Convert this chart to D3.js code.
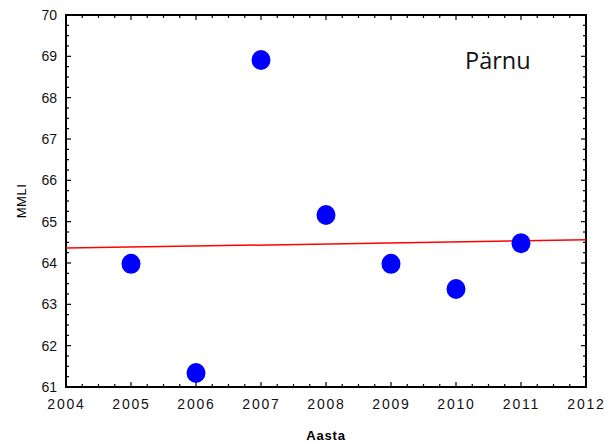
<!DOCTYPE html>
<html>
<head>
<meta charset="utf-8">
<script src="https://cdn.jsdelivr.net/npm/d3@7"></script>
<style>
body { margin: 0; background: #fff; }
text { font-family: "Liberation Sans", Arial, sans-serif; }
</style>
</head>
<body>
<div id="chart"></div>
<script>
const w = 609;
const h = 443;
const margin = {top: 15, right: 23, bottom: 56, left: 66};

// data
const years = [2005, 2006, 2007, 2008, 2009, 2010, 2011];
const mmli = [63.98, 61.34, 68.91, 65.16, 63.98, 63.37, 64.48];
const trendX = [2004, 2012];
const trendY = [64.36, 64.56];
const xTicks = [2004, 2005, 2006, 2007, 2008, 2009, 2010, 2011, 2012];
const yTicks = [61, 62, 63, 64, 65, 66, 67, 68, 69, 70];

let svg = d3.select('#chart')
	.append('svg')
		.attr('width', w)
		.attr('height', h);

let xScale = d3.scaleLinear()
	.domain([2004, 2012])
	.range([margin.left, w - margin.right]);

let yScale = d3.scaleLinear()
	.domain([61, 70])
	.range([h - margin.bottom, margin.top]);

const x0 = xScale.range()[0], x1 = xScale.range()[1];
const y0 = yScale.range()[0], y1 = yScale.range()[1];

// minor ticks every quarter
const xMinor = d3.range(2004, 2012.001, 0.25);
const yMinor = d3.range(61, 70.001, 0.25);

function tickLen(v) { return Math.abs(v - Math.round(v)) < 1e-6 ? 5 : 3; }

let ticks = svg.append('g').attr('stroke', 'black').attr('stroke-width', 1.2);
xMinor.forEach(v => {
	const x = xScale(v), l = tickLen(v);
	ticks.append('line').attr('x1', x).attr('x2', x).attr('y1', y0).attr('y2', y0 - l);
	ticks.append('line').attr('x1', x).attr('x2', x).attr('y1', y1).attr('y2', y1 + l);
});
yMinor.forEach(v => {
	const y = yScale(v), l = tickLen(v);
	ticks.append('line').attr('x1', x0).attr('x2', x0 + l).attr('y1', y).attr('y2', y);
	ticks.append('line').attr('x1', x1).attr('x2', x1 - l).attr('y1', y).attr('y2', y);
});

// frame
svg.append('rect')
	.attr('x', x0).attr('y', y1)
	.attr('width', x1 - x0).attr('height', y0 - y1)
	.attr('fill', 'none').attr('stroke', 'black').attr('stroke-width', 2);

// tick labels via axes
let xAxis = svg.append('g')
	.attr('transform', 'translate(0,' + y0 + ')')
	.call(d3.axisBottom(xScale).tickValues(xTicks).tickFormat(d3.format('d')).tickSize(0).tickPadding(12));
xAxis.select('.domain').remove();
xAxis.selectAll('text').attr('font-size', 14).attr('fill', '#111').attr('letter-spacing', 1.8);

let yAxis = svg.append('g')
	.attr('transform', 'translate(' + x0 + ',0)')
	.call(d3.axisLeft(yScale).tickValues(yTicks).tickSize(0).tickPadding(9));
yAxis.select('.domain').remove();
yAxis.selectAll('text').attr('font-size', 14).attr('fill', '#111');

// trend line
svg.append('line')
	.attr('x1', xScale(trendX[0])).attr('y1', yScale(trendY[0]))
	.attr('x2', xScale(trendX[1])).attr('y2', yScale(trendY[1]))
	.attr('stroke', '#ff0000').attr('stroke-width', 1.5);

// points
svg.selectAll('ellipse.pt')
	.data(years)
	.enter()
	.append('ellipse')
	.attr('class', 'pt')
	.attr('cx', (d) => xScale(d))
	.attr('cy', (d, i) => yScale(mmli[i]))
	.attr('rx', 9.5)
	.attr('ry', 10)
	.attr('fill', '#0000ff');

// axis titles
svg.append('text')
	.attr('x', (x0 + x1) / 2).attr('y', 440)
	.attr('text-anchor', 'middle')
	.attr('font-size', 13).attr('font-weight', 'bold')
	.attr('letter-spacing', 0.8)
	.text('Aasta');

svg.append('text')
	.attr('transform', 'translate(26,' + ((y0 + y1) / 2) + ') rotate(-90)')
	.attr('text-anchor', 'middle')
	.attr('font-size', 13)
	.attr('letter-spacing', 0.5)
	.text('MMLI');

svg.append('text')
	.attr('x', 465).attr('y', 69)
	.attr('font-size', 23.5)
	.style('font-family', '"Open Sans", "Noto Sans", sans-serif')
	.attr('fill', '#111')
	.text('Pärnu');
</script>
</body>
</html>
